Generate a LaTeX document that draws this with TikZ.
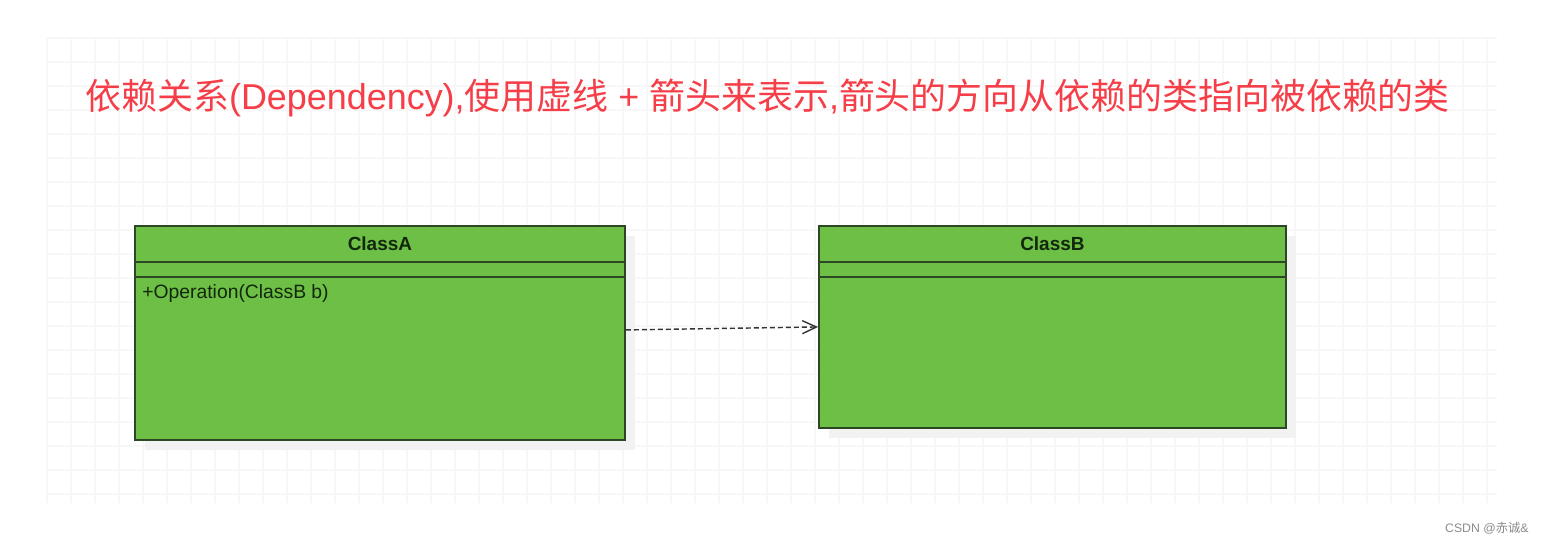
\documentclass[tikz,border=0pt]{standalone}
\usepackage{fontspec}
\setmainfont{Liberation Sans}
\newfontfamily\cjk{Noto Sans CJK SC}
\usetikzlibrary{arrows.meta,shadows}

\definecolor{umlgreen}{RGB}{110,191,70}
\definecolor{umledge}{RGB}{45,70,35}
\definecolor{umltext}{RGB}{18,40,12}
\definecolor{titlered}{RGB}{245,62,72}
\definecolor{gridgray}{RGB}{247,247,248}

\begin{document}
\begin{tikzpicture}[x=0.02cm, y=-0.02cm]
        \tikzstyle{umlclass}=[draw=umledge, line width=1.1pt, rectangle, fill=umlgreen, anchor=north west, inner sep=0pt,
            drop shadow={shadow xshift=0.2cm, shadow yshift=-0.2cm, fill=black!5, opacity=1}]
        \tikzstyle{classname}=[font=\bfseries\fontsize{10.8}{12}\selectfont, text=umltext, inner sep=0pt]
        \tikzstyle{member}=[font=\fontsize{11}{12}\selectfont, text=umltext, inner sep=0pt, anchor=west]
        \tikzstyle{classline}=[draw=umledge, line width=1.1pt]
        \tikzstyle{gridline}=[draw=gridgray, line width=0.6pt]
        \tikzstyle{dep}=[draw=black!80, line width=0.8pt, dash pattern=on 0.1cm off 0.06cm, -{Straight Barb[length=0.28cm, width=0.26cm, line width=0.8pt]}]

        \fill[white] (0,0) rectangle (1544,544);
        \useasboundingbox (0,0) rectangle (1544,544);

        % background grid
        \foreach \gx in {47,71,...,1497} \draw[gridline] (\gx,38) -- (\gx,503);
        \foreach \gy in {38,62,...,503} \draw[gridline] (47,\gy) -- (1497,\gy);

        \node[anchor=base west, inner sep=0pt, text=titlered, font=\fontsize{20.45}{24}\selectfont] (title) at (85,110)
            {{\cjk 依赖关系}(Dependency),{\cjk 使用虚线} + {\cjk 箭头来表示},{\cjk 箭头的方向从依赖的类指向被依赖的类}};

        \node[umlclass, minimum width=9.8cm, minimum height=4.28cm] (classA) at (134,225) {};
        \node[umlclass, minimum width=9.34cm, minimum height=4.04cm] (classB) at (818,225) {};

        \node[classname] (nameA) at ([yshift=-0.37cm]classA.north) {ClassA};
        \node[classname] (nameB) at ([yshift=-0.37cm]classB.north) {ClassB};

        \draw[classline] ([yshift=-0.74cm]classA.north west) -- ([yshift=-0.74cm]classA.north east);
        \draw[classline] ([yshift=-1.04cm]classA.north west) -- ([yshift=-1.04cm]classA.north east);
        \draw[classline] ([yshift=-0.74cm]classB.north west) -- ([yshift=-0.74cm]classB.north east);
        \draw[classline] ([yshift=-1.04cm]classB.north west) -- ([yshift=-1.04cm]classB.north east);

        \node[member] (opA) at ([xshift=0.16cm, yshift=-1.38cm]classA.north west) {+Operation(ClassB b)};

        \draw[dep] ([yshift=0.06cm]classA.east) -- (classB.west);

        \node[anchor=east, inner sep=0pt, text=black!45, font=\fontsize{7}{8}\selectfont] (mark) at (1529,528) {CSDN @{\cjk 赤诚}\&};
    \end{tikzpicture}
\end{document}
